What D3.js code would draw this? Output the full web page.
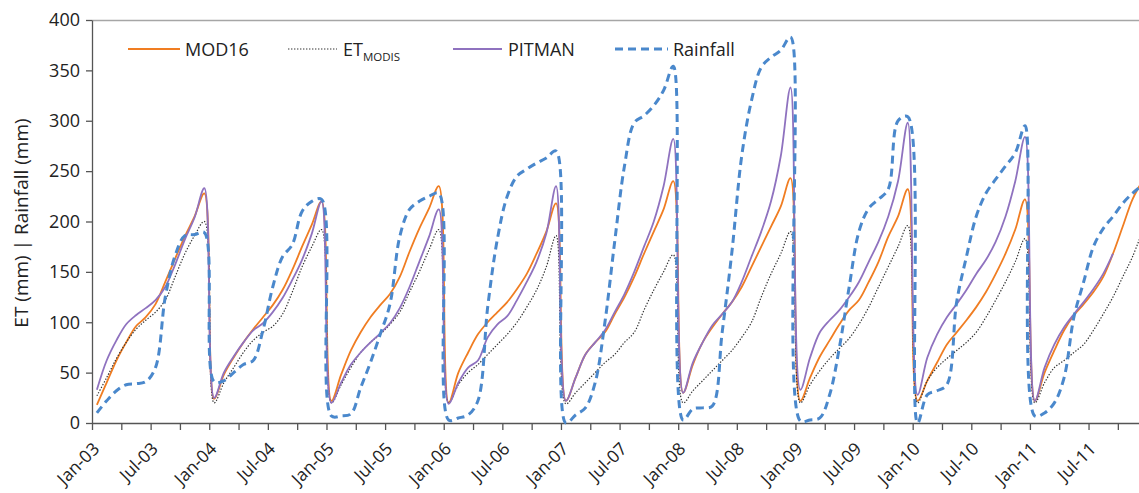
<!DOCTYPE html>
<html><head><meta charset="utf-8">
<script src="https://cdn.jsdelivr.net/npm/d3@7"></script>
<style>
html,body{margin:0;padding:0;background:#fff;}
svg{display:block;font-family:"Open Sans",sans-serif;}
</style></head><body>
<svg id="c" width="1139" height="493"></svg>
<script>
// monthly values Jan-03 .. Dec-11
const mod16 = [
 18,40,62,80,96,105,118,140,163,185,205,228,
 24,48,65,80,93,105,117,132,152,175,197,220,
 22,48,72,90,105,117,128,145,170,193,213,235,
 20,50,70,88,100,110,120,133,148,168,190,218,
 22,45,68,80,90,108,125,145,168,190,212,240,
 30,58,80,95,108,120,135,155,175,195,215,243,
 22,45,66,82,98,112,122,140,160,185,205,232,
 22,42,60,78,90,102,115,130,148,168,192,222,
 22,50,72,92,107,118,130,145,168,195,222,240];
const etModis = [
 27,45,64,80,93,102,110,122,145,168,186,200,
 20,40,55,70,82,90,96,108,130,155,175,192,
 20,38,55,70,80,88,98,110,130,150,172,192,
 20,38,50,58,68,78,88,100,115,132,155,186,
 19,30,40,50,60,68,80,90,112,132,150,167,
 20,32,42,52,62,72,85,100,125,148,168,190,
 20,38,52,64,74,84,98,115,135,155,175,196,
 20,42,55,64,72,80,90,105,122,140,160,183,
 20,40,55,62,70,78,92,108,125,145,165,190];
const pitman = [
 33,62,82,98,107,114,122,135,157,182,204,233,
 25,50,66,80,92,99,110,124,142,162,188,220,
 20,40,58,70,80,89,99,114,135,160,185,212,
 19,40,55,62,85,98,106,122,140,160,188,235,
 22,45,68,80,92,110,128,150,175,200,235,282,
 30,60,80,97,108,120,140,165,190,220,265,333,
 33,65,90,102,112,125,140,160,180,205,240,298,
 28,65,88,105,118,132,148,162,180,205,240,284,
 22,55,78,95,108,120,133,148,168,null,null,null];
const rainfall = [
 10,22,32,38,39,41,55,125,166,186,187,189,
 41,42,50,58,62,92,135,165,177,210,220,222,
 7,7,9,35,60,88,118,185,212,220,225,228,
 3,5,8,22,115,183,225,245,252,258,263,270,
 0,8,15,40,100,180,255,298,305,315,330,354,
 3,14,15,17,90,170,265,320,353,363,370,383,
 2,3,5,28,75,135,190,213,222,232,300,304,
 0,28,32,38,120,165,205,228,242,255,268,295,
 7,10,20,45,105,140,175,193,205,218,228,236];
const xTickLabels = ["Jan-03","Jul-03","Jan-04","Jul-04","Jan-05","Jul-05","Jan-06","Jul-06",
 "Jan-07","Jul-07","Jan-08","Jul-08","Jan-09","Jul-09","Jan-10","Jul-10","Jan-11","Jul-11"];
const yTicks = [0,50,100,150,200,250,300,350,400];

const svg = d3.select("#c");
const padL = 92, padT = 20, baseY = 423, monthW = 9.77;
const x = d3.scaleLinear().domain([0,108]).range([padL, padL + 108*monthW]);
const y = d3.scaleLinear().domain([0,400]).range([baseY, padT]);

// top border
svg.append("line").attr("x1",padL).attr("x2",1139).attr("y1",padT+0.5).attr("y2",padT+0.5)
  .attr("stroke","#a6a6a6").attr("stroke-width",1.3);

// y axis
const ya = svg.append("g").attr("transform",`translate(${padL},0)`)
  .call(d3.axisLeft(y).tickValues(yTicks).tickSize(6).tickSizeOuter(0).tickPadding(6));
ya.selectAll("text").attr("font-size",18).attr("fill","#222").attr("font-family","'Open Sans',sans-serif");
ya.selectAll("line,path").attr("stroke","#555").attr("stroke-width",1.3);

// x axis
const xa = svg.append("g").attr("transform",`translate(0,${baseY})`)
  .call(d3.axisBottom(x).tickValues(d3.range(0,109,3)).tickSize(7).tickSizeOuter(0)
    .tickFormat(d => d % 6 === 0 && xTickLabels[d/6] ? xTickLabels[d/6] : ""));
xa.selectAll("line,path").attr("stroke","#555").attr("stroke-width",1.3);
xa.selectAll("text").attr("font-size",17.5).attr("fill","#222").attr("font-family","'Open Sans',sans-serif")
  .attr("text-anchor","end").attr("dy",0).attr("y",0)
  .attr("transform","translate(8,27) rotate(-45)");

// y title
svg.append("text").attr("transform","translate(28,223) rotate(-90)")
  .attr("text-anchor","middle").attr("font-size",19).attr("fill","#222")
  .text("ET (mm) | Rainfall (mm)");

const line = d3.line().defined(d => d != null)
  .x((d,i) => x(i+0.5)).y(d => y(d)).curve(d3.curveCatmullRom.alpha(0.5));

const series = [
  {data: mod16, color:"#f07d22", w:1.8, dash:null},
  {data: etModis, color:"#333", w:1.2, dash:"1.4,1.6"},
  {data: pitman, color:"#8f72bf", w:1.8, dash:null},
  {data: rainfall, color:"#4a88cc", w:3, dash:"8,5"}
];
series.forEach(s => {
  svg.append("path").attr("d", line(s.data)).attr("fill","none")
    .attr("stroke", s.color).attr("stroke-width", s.w)
    .attr("stroke-dasharray", s.dash).attr("stroke-linejoin","round");
});

// legend
const lg = svg.append("g");
const legendItems = [
  {x1:128, x2:180, tx:185, s:series[0], label:"MOD16"},
  {x1:288, x2:337, tx:343, s:series[1], label:"ET", sub:"MODIS"},
  {x1:453, x2:502, tx:508, s:series[2], label:"PITMAN"},
  {x1:615, x2:668, tx:673, s:series[3], label:"Rainfall"}
];
legendItems.forEach(it => {
  lg.append("line").attr("x1",it.x1).attr("x2",it.x2).attr("y1",49).attr("y2",49)
    .attr("stroke",it.s.color).attr("stroke-width",it.s.w).attr("stroke-dasharray",it.s.dash);
  const t = lg.append("text").attr("x",it.tx).attr("y",56).attr("font-size",18).attr("fill","#222");
  t.append("tspan").text(it.label);
  if (it.sub) t.append("tspan").attr("font-size",11.5).attr("dy",5).text(it.sub);
});
</script>
</body></html>
